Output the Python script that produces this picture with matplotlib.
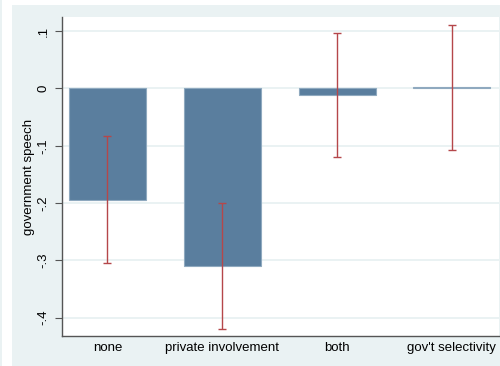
import matplotlib
matplotlib.use("Agg")
import matplotlib.pyplot as plt
from matplotlib.patches import Rectangle

plt.rcParams["font.family"] = ["Liberation Sans", "DejaVu Sans"]

categories = ["none", "private involvement", "both", "gov't selectivity"]
means = [-0.194, -0.310, -0.012, 0.002]
ci_low = [-0.305, -0.420, -0.120, -0.107]
ci_high = [-0.083, -0.200, 0.096, 0.110]
yticks = [0.1, 0.0, -0.1, -0.2, -0.3, -0.4]
yticklabels = [".1", "0", "-.1", "-.2", "-.3", "-.4"]

W, H = 500, 366
fig = plt.figure(figsize=(W / 100, H / 100), dpi=100)
fig.patch.set_facecolor("white")

# Stata-style outer graph region
fig.add_artist(Rectangle((0, 0), 2 / W, 1, transform=fig.transFigure,
                         facecolor="#EAF2F3", edgecolor="none", zorder=0))
fig.add_artist(Rectangle((12 / W, 0), 1 - 12 / W, 1 - 5 / H, transform=fig.transFigure,
                         facecolor="#EAF2F3", edgecolor="none", zorder=0))

left, right, top, bottom = 62, 499, 17, 336
ax = fig.add_axes([left / W, 1 - bottom / H, (right - left) / W, (bottom - top) / H])
ax.set_facecolor("white")

x = list(range(len(categories)))
ax.bar(x, means, width=0.67, color="#5A7E9E", edgecolor="#8FA9BF", linewidth=0.8, zorder=2)

yerr_lo = [m - lo for m, lo in zip(means, ci_low)]
yerr_hi = [hi - m for m, hi in zip(means, ci_high)]
ax.errorbar(x, means, yerr=[yerr_lo, yerr_hi], fmt="none", ecolor="#B5474A",
            elinewidth=1.0, capsize=3, capthick=1.0, zorder=3)

ax.set_ylim(-0.432, 0.1246)
ax.set_xlim(-0.396, 3.41)
ax.set_yticks(yticks)
ax.set_yticklabels(yticklabels, rotation=90, va="center", fontsize=9.5)
ax.set_xticks(x)
ax.set_xticklabels(categories, fontsize=9.5)
ax.tick_params(axis="x", length=0, pad=4)
ax.tick_params(axis="y", length=5, width=0.8, color="#555555", pad=4)
ax.yaxis.grid(True, color="#EAF2F3", linewidth=1.4, zorder=0)
ax.set_axisbelow(True)

for s in ["top", "right"]:
    ax.spines[s].set_visible(False)
for s in ["left", "bottom"]:
    ax.spines[s].set_color("#555555")
    ax.spines[s].set_linewidth(1.0)

ax.set_ylabel("government speech", fontsize=9.5, labelpad=2)

fig.savefig("out.png", dpi=100, facecolor=fig.get_facecolor())
